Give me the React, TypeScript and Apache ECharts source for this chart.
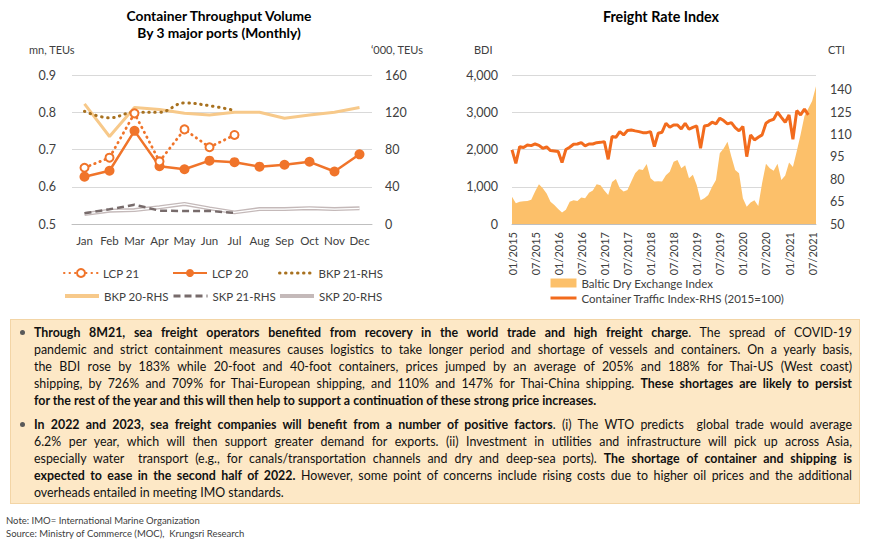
import React, { useEffect, useRef } from 'react';
import * as echarts from 'echarts';

// ---------- Left chart data ----------
const months = ['Jan', 'Feb', 'Mar', 'Apr', 'May', 'Jun', 'Jul', 'Aug', 'Sep', 'Oct', 'Nov', 'Dec'];
const lcp21 = [0.651, 0.678, 0.797, 0.668, 0.754, 0.706, 0.739];
const lcp20 = [0.627, 0.643, 0.75, 0.655, 0.647, 0.67, 0.666, 0.654, 0.659, 0.667, 0.641, 0.687];
const bkp21 = [121, 114, 120, 120, 130, 127, 122];
const bkp20 = [129, 94, 125, 123, 119, 117, 120, 120, 113.5, 117, 120, 125];
const skp21 = [11.5, 15.8, 20.7, 14.3, 14, 14, 12];
const skp20 = [10.7, 14.3, 15, 18, 21.5, 16.8, 12.5, 16, 16, 17, 16, 16.8];
const leftTicks = [0.5, 0.6, 0.7, 0.8, 0.9];
const rightTicks = [0, 40, 80, 120, 160];

// ---------- Right chart data ----------
const startYear = 2015;
const monthCount = 80; // 01/2015 .. 08/2021
const bdiMonths: string[] = [];
for (let i = 0; i < monthCount; i++) {
  const y = startYear + Math.floor(i / 12);
  const m = (i % 12) + 1;
  bdiMonths.push(`${m < 10 ? '0' + m : m}/${y}`);
}
const bdi = [
  734, 560, 600, 608, 617, 650, 870, 1070, 960, 820, 600, 510,
  400, 310, 380, 600, 640, 620, 710, 690, 840, 900, 1070, 1040,
  900, 780, 1130, 1210, 960, 870, 910, 1140, 1360, 1470, 1450, 1610,
  1230, 1140, 1150, 1140, 1310, 1400, 1670, 1720, 1500, 1580, 1230, 1320,
  1050, 640, 690, 780, 1000, 1180, 1900, 2030, 2210, 1810, 1450, 1360,
  690, 460, 580, 640, 480, 1100, 1620, 1500, 1430, 1620, 1180, 1300,
  1650, 1530, 1950, 2400, 2900, 3100, 3300, 3700,
];
const cti = [
  99.7, 90.7, 101.9, 101.3, 103, 102.6, 103.7, 102.8, 100.8, 101.7, 99.3, 99,
  98.6, 91.2, 100, 101.5, 103.5, 103.7, 104.6, 102.4, 103.7, 103.7, 104.6, 104.8,
  105.3, 93.4, 108.7, 108.2, 112, 109.8, 112.7, 113.1, 112.5, 112, 111.3, 111.3,
  112, 101.9, 110.9, 111.6, 117.6, 114.9, 116.5, 116.5, 113.8, 117.6, 113.6, 114.9,
  115.8, 100.8, 115.8, 116.3, 118.3, 117.2, 121, 119.4, 117.2, 118, 114.7, 112.5,
  115.4, 95.2, 109.8, 106.4, 108.2, 109.8, 117.6, 119.4, 120.3, 125, 121.6, 118.3,
  123.2, 106.9, 126.1, 123.2, 127.2, 123.2,
];
const bdiTicks = [0, 1000, 2000, 3000, 4000];
const ctiTicks = [50, 65, 80, 95, 110, 125, 140];

const ORANGE = '#F0742A';
const AXIS_TXT = '#404040';
const FONT = 'Lato, "Open Sans", sans-serif';

const B = ({ children }: { children: React.ReactNode }) => <b style={{ fontWeight: 700 }}>{children}</b>;

const lineStyle = (last = false): React.CSSProperties => ({
  height: 17,
  lineHeight: '17px',
  textAlign: 'justify',
  textAlignLast: last ? 'left' : 'justify',
  whiteSpace: 'nowrap',
});

export default function App() {
  const ref = useRef<HTMLDivElement>(null);

  useEffect(() => {
    document.body.style.margin = '0';
    if (!ref.current) return;
    const chart = echarts.init(ref.current, undefined, { renderer: 'svg' });
    const txt = { color: AXIS_TXT, fontFamily: FONT };
    const legendBase = {
      itemWidth: 34,
      itemHeight: 10,
      itemGap: 5,
      textStyle: { ...txt, fontSize: 11.5 },
    };
    const noMarker = (name: string) => ({ name, itemStyle: { opacity: 0 } });
    chart.setOption({
      animation: false,
      textStyle: { fontFamily: FONT },
      grid: [
        { left: 72, top: 75, width: 300, height: 149 },
        { left: 512, top: 75, width: 304, height: 149 },
      ],
      xAxis: [
        {
          type: 'category', gridIndex: 0, data: months, boundaryGap: true,
          axisTick: { show: false },
          axisLine: { lineStyle: { color: '#bfbfbf' } },
          axisLabel: { ...txt, fontSize: 11.5, margin: 10, interval: 0 },
        },
        {
          type: 'category', gridIndex: 1, data: bdiMonths, boundaryGap: false,
          axisTick: { show: false },
          axisLine: { lineStyle: { color: '#bfbfbf' } },
          axisLabel: { ...txt, fontSize: 11, rotate: 90, interval: 5, margin: 8 },
        },
      ],
      yAxis: [
        {
          type: 'value', gridIndex: 0, min: 0.5, max: 0.9, interval: 0.1,
          axisLabel: { ...txt, fontSize: 12.5, margin: 16, customValues: leftTicks, formatter: (v: number) => v.toFixed(1) },
          axisTick: { show: false },
          splitLine: { show: true, lineStyle: { color: '#d9d9d9' } },
          axisLine: { show: false },
        },
        {
          type: 'value', gridIndex: 0, min: 0, max: 160, interval: 40, position: 'right',
          axisLabel: { ...txt, fontSize: 12.5, margin: 13, customValues: rightTicks },
          axisTick: { show: false },
          splitLine: { show: false },
          axisLine: { show: false },
        },
        {
          type: 'value', gridIndex: 1, min: 0, max: 4000, interval: 1000,
          axisLabel: { ...txt, fontSize: 12.5, margin: 14, customValues: bdiTicks, formatter: (v: number) => v.toLocaleString('en-US') },
          axisTick: { show: false },
          splitLine: { show: true, lineStyle: { color: '#d9d9d9' } },
          axisLine: { show: false },
        },
        {
          type: 'value', gridIndex: 1, min: 50, max: 150, position: 'right',
          axisLabel: { ...txt, fontSize: 12.5, margin: 14, customValues: ctiTicks },
          axisTick: { show: false },
          splitLine: { show: false },
          axisLine: { show: false },
        },
      ],
      legend: [
        { ...legendBase, data: ['LCP 21'], left: 58, top: 262 },
        { ...legendBase, data: ['LCP 20'], left: 167, top: 262 },
        { ...legendBase, data: [noMarker('BKP 21-RHS')], left: 273, top: 262, lineStyle: { width: 3 } },
        { ...legendBase, data: [noMarker('BKP 20-RHS')], left: 58, top: 285, lineStyle: { width: 4 } },
        { ...legendBase, data: [noMarker('SKP 21-RHS')], left: 167, top: 285, lineStyle: { width: 3 } },
        { ...legendBase, data: [noMarker('SKP 20-RHS')], left: 273, top: 285, lineStyle: { width: 4 } },
        {
          orient: 'vertical', left: 544, top: 272, itemWidth: 26, itemHeight: 9, itemGap: 3,
          textStyle: { ...txt, fontSize: 11.5 },
          lineStyle: { width: 3 },
          data: [
            { name: 'Baltic Dry Exchange Index', icon: 'rect' },
            noMarker('Container Traffic Index-RHS (2015=100)'),
          ],
        },
      ],
      series: [
        {
          name: 'SKP 20-RHS', type: 'line', xAxisIndex: 0, yAxisIndex: 1, data: skp20,
          symbol: 'none', lineStyle: { color: '#C4B9B9', width: 4 }, itemStyle: { color: '#C4B9B9' },
        },
        {
          name: 'SKP 20-RHS inner', type: 'line', xAxisIndex: 0, yAxisIndex: 1, data: skp20,
          symbol: 'none', silent: true, lineStyle: { color: '#ffffff', width: 1.3 }, itemStyle: { color: '#ffffff' },
        },
        {
          name: 'SKP 21-RHS', type: 'line', xAxisIndex: 0, yAxisIndex: 1, data: skp21,
          symbol: 'none', lineStyle: { color: '#776B6B', width: 2.5, type: [7, 4] }, itemStyle: { color: '#776B6B' },
        },
        {
          name: 'BKP 20-RHS', type: 'line', xAxisIndex: 0, yAxisIndex: 1, data: bkp20,
          symbol: 'none', lineStyle: { color: '#F7C98A', width: 3 }, itemStyle: { color: '#F7C98A' },
        },
        {
          name: 'BKP 21-RHS', type: 'line', xAxisIndex: 0, yAxisIndex: 1, data: bkp21, smooth: 0.4,
          symbol: 'none', lineStyle: { color: '#A8711F', width: 3, type: [0.5, 5.5], cap: 'round' }, itemStyle: { color: '#A8711F' },
        },
        {
          name: 'LCP 20', type: 'line', xAxisIndex: 0, yAxisIndex: 0, data: lcp20,
          symbol: 'circle', symbolSize: 10, lineStyle: { color: ORANGE, width: 2.5 }, itemStyle: { color: ORANGE },
        },
        {
          name: 'LCP 21', type: 'line', xAxisIndex: 0, yAxisIndex: 0, data: lcp21,
          symbol: 'emptyCircle', symbolSize: 8,
          lineStyle: { color: ORANGE, width: 2.8, type: [0.5, 5], cap: 'round' },
          itemStyle: { color: ORANGE, borderColor: ORANGE, borderWidth: 2.5 },
        },
        {
          name: 'Baltic Dry Exchange Index', type: 'line', xAxisIndex: 1, yAxisIndex: 2, data: bdi,
          symbol: 'none', lineStyle: { width: 0, color: '#FCC06A' },
          areaStyle: { color: '#FCC06A', opacity: 1 }, itemStyle: { color: '#FCC06A' },
        },
        {
          name: 'Container Traffic Index-RHS (2015=100)', type: 'line', xAxisIndex: 1, yAxisIndex: 3, data: cti,
          symbol: 'none', lineStyle: { color: '#F26B1D', width: 3 }, itemStyle: { color: '#F26B1D' },
        },
      ],
      graphic: [
        { type: 'text', style: { text: 'Container Throughput Volume', x: 219, y: 15, align: 'center', verticalAlign: 'middle', font: `bold 13.8px ${FONT}`, fill: '#000' } },
        { type: 'text', style: { text: 'By 3 major ports (Monthly)', x: 219, y: 32, align: 'center', verticalAlign: 'middle', font: `bold 13.8px ${FONT}`, fill: '#000' } },
        { type: 'text', style: { text: 'Freight Rate Index', x: 661, y: 16, align: 'center', verticalAlign: 'middle', font: `bold 14.3px ${FONT}`, fill: '#000' } },
        { type: 'text', style: { text: 'mn, TEUs', x: 29, y: 49, align: 'left', verticalAlign: 'middle', font: `11px ${FONT}`, fill: AXIS_TXT } },
        { type: 'text', style: { text: '\u2018000, TEUs', x: 371, y: 49, align: 'left', verticalAlign: 'middle', font: `11px ${FONT}`, fill: AXIS_TXT } },
        { type: 'text', style: { text: 'BDI', x: 474, y: 49, align: 'left', verticalAlign: 'middle', font: `11px ${FONT}`, fill: AXIS_TXT } },
        { type: 'text', style: { text: 'CTI', x: 828, y: 49, align: 'left', verticalAlign: 'middle', font: `11px ${FONT}`, fill: AXIS_TXT } },
      ],
    });
    return () => chart.dispose();
  }, []);

  const bullet = (top: number): React.CSSProperties => ({
    position: 'absolute', left: 9, top, width: 5, height: 5, borderRadius: '50%', background: '#595959',
  });

  return (
    <div style={{ position: 'relative', width: 870, height: 546, background: '#fff', fontFamily: FONT, overflow: 'hidden' }}>
      <div ref={ref} style={{ position: 'absolute', left: 0, top: 0, width: 870, height: 546 }} />
      <div
        style={{
          position: 'absolute', left: 10, top: 319, width: 850, height: 185, boxSizing: 'border-box',
          background: '#FDE8C6', border: '1px solid #F3D5A6', color: '#111', fontSize: 12.4,
        }}
      >
        <span style={bullet(10)} />
        <div style={{ position: 'absolute', left: 23, top: 4, width: 818 }}>
          <div style={lineStyle()}><B>Through 8M21, sea freight operators benefited from recovery in the world trade and high freight charge</B>. The spread of COVID-19</div>
          <div style={lineStyle()}>pandemic and strict containment measures causes logistics to take longer period and shortage of vessels and containers. On a yearly basis,</div>
          <div style={lineStyle()}>the BDI rose by 183% while 20-foot and 40-foot containers, prices jumped by an average of 205% and 188% for Thai-US (West coast)</div>
          <div style={lineStyle()}>shipping, by 726% and 709% for Thai-European shipping, and 110% and 147% for Thai-China shipping. <B>These shortages are likely to persist</B></div>
          <div style={lineStyle(true)}><B>for the rest of the year and this will then help to support a continuation of these strong price increases.</B></div>
        </div>
        <span style={bullet(102)} />
        <div style={{ position: 'absolute', left: 23, top: 96, width: 818 }}>
          <div style={lineStyle()}><B>In 2022 and 2023, sea freight companies will benefit from a number of positive factors</B>. (i) The WTO predicts&nbsp; global trade would average</div>
          <div style={lineStyle()}>6.2% per year, which will then support greater demand for exports. (ii) Investment in utilities and infrastructure will pick up across Asia,</div>
          <div style={lineStyle()}>especially water&nbsp; transport (e.g., for canals/transportation channels and dry and deep-sea ports). <B>The shortage of container and shipping is</B></div>
          <div style={lineStyle()}><B>expected to ease in the second half of 2022.</B> However, some point of concerns include rising costs due to higher oil prices and the additional</div>
          <div style={lineStyle(true)}>overheads entailed in meeting IMO standards.</div>
        </div>
      </div>
      <div style={{ position: 'absolute', left: 6, top: 514, fontSize: 9.5, color: '#404040', lineHeight: '13px' }}>
        <div>Note: IMO= International Marine Organization</div>
        <div>Source: Ministry of Commerce (MOC),&nbsp; Krungsri Research</div>
      </div>
    </div>
  );
}
